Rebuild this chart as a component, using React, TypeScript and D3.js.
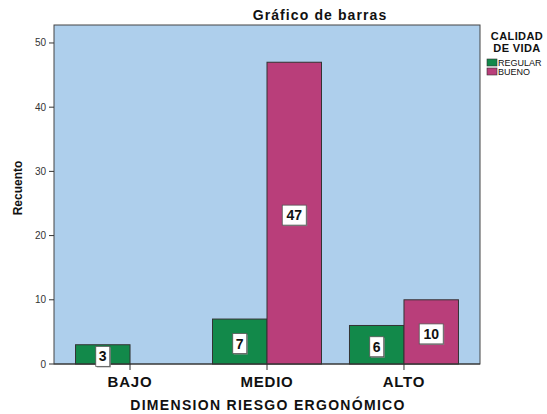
import React from "react";
import * as d3 from "d3";

const categories = ["BAJO", "MEDIO", "ALTO"];
const seriesNames = ["REGULAR", "BUENO"];
const regular = [3, 7, 6];
const bueno = [null, 47, 10];
const yTicks = [0, 10, 20, 30, 40, 50];

const colors = ["#12894a", "#b93e7a"];

export default function App() {
  const W = 547, H = 414;
  const left = 54, right = 480, top = 25, bottom = 364;
  const x = d3.scalePoint<string>().domain(categories).range([left, right]).padding(0.555);
  const y = d3.scaleLinear().domain([0, 52.8]).range([bottom, top]);
  const sub = d3.scaleBand<string>().domain(seriesNames).range([-54.5, 54.5]).padding(0);
  const series = [regular, bueno];
  const font = "'Liberation Sans', Arial, sans-serif";

  return (
    <svg width={W} height={H} style={{ position: "absolute", left: 0, top: 0 }} fontFamily={font}>
      <rect x={0} y={0} width={W} height={H} fill="#fff" />
      <text x={320} y={20} textAnchor="middle" fontSize={14} fontWeight="bold" letterSpacing={1.1} fill="#111">Gráfico de barras</text>
      <rect x={left} y={top} width={right - left} height={bottom - top} fill="#aecfec" stroke="#444" strokeWidth={1} />
      {yTicks.map((t) => (
        <g key={t}>
          <line x1={left - 5} x2={left} y1={y(t)} y2={y(t)} stroke="#333" />
          <text x={left - 8} y={y(t) + 3.5} textAnchor="end" fontSize={10} fill="#333">{t}</text>
        </g>
      ))}
      <text transform={`translate(22,188) rotate(-90)`} textAnchor="middle" fontSize={12} fontWeight="bold" fill="#111">Recuento</text>
      {series.map((vals, si) =>
        vals.map((v, ci) =>
          v == null ? null : (
            <rect key={`${si}-${ci}`} x={(x(categories[ci]) as number) + (sub(seriesNames[si]) as number)} y={y(v)} width={sub.bandwidth()} height={bottom - y(v)} fill={colors[si]} stroke="#333" strokeWidth={1} />
          )
        )
      )}
      {categories.map((c) => (
        <g key={c}>
          <line x1={x(c)} x2={x(c)} y1={bottom} y2={bottom + 6} stroke="#333" />
          <text x={x(c)} y={387} textAnchor="middle" fontSize={15} fontWeight="bold" letterSpacing={0.8} fill="#111">{c}</text>
        </g>
      ))}
      <line x1={left} x2={right} y1={bottom} y2={bottom} stroke="#333" />
      {series.map((vals, si) =>
        vals.map((v, ci) => {
          if (v == null) return null;
          const cx = (x(categories[ci]) as number) + (sub(seriesNames[si]) as number) + sub.bandwidth() / 2;
          const cy = (y(v) + bottom) / 2 + 2;
          const label = String(v);
          const w = label.length === 1 ? 14 : 24;
          return (
            <g key={`l${si}-${ci}`}>
              <rect x={cx - w / 2 + 1} y={cy - 10 + 1} width={w} height={20} fill="#888" />
              <rect x={cx - w / 2} y={cy - 10} width={w} height={20} fill="#fff" stroke="#555" strokeWidth={0.8} />
              <text x={cx} y={cy + 5} textAnchor="middle" fontSize={14} fontWeight="bold" fill="#111">{label}</text>
            </g>
          );
        })
      )}
      <text x={268} y={410} textAnchor="middle" fontSize={14} fontWeight="bold" letterSpacing={1.3} fill="#111">DIMENSION RIESGO ERGONÓMICO</text>
      <text x={517} y={40} textAnchor="middle" fontSize={11} fontWeight="bold" letterSpacing={0.4} fill="#111">CALIDAD</text>
      <text x={517} y={52} textAnchor="middle" fontSize={11} fontWeight="bold" letterSpacing={0.4} fill="#111">DE VIDA</text>
      {seriesNames.map((s, i) => (
        <g key={s}>
          <rect x={487} y={59 + i * 9} width={10} height={7} fill={colors[i]} stroke="#333" strokeWidth={0.6} />
          <text x={498} y={66 + i * 9} fontSize={9} fill="#111">{s}</text>
        </g>
      ))}
    </svg>
  );
}
